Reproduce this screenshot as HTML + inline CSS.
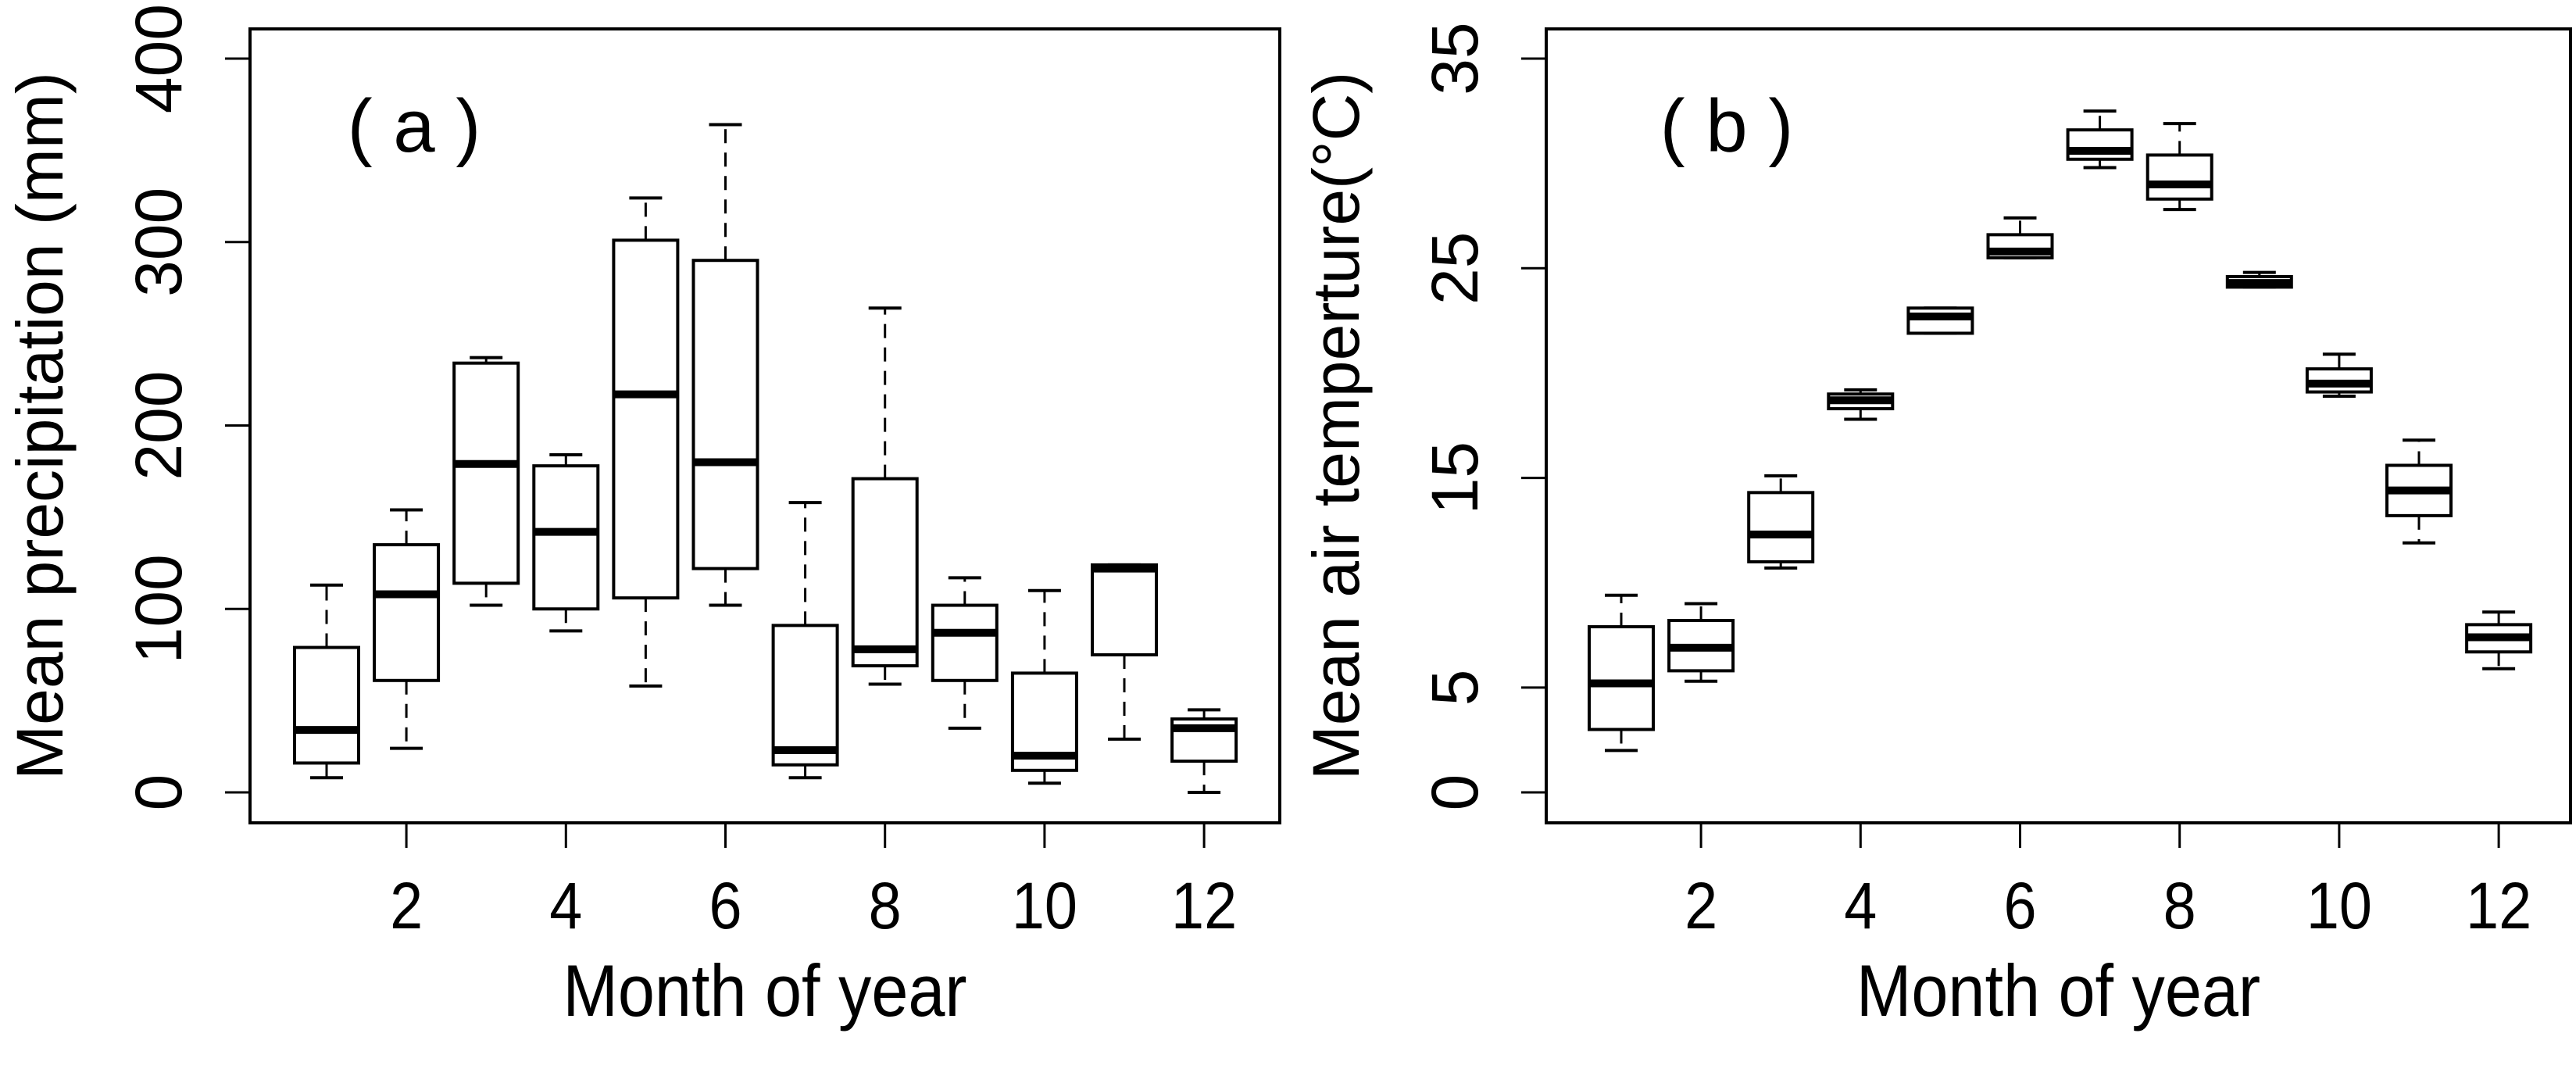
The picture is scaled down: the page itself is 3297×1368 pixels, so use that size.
<!DOCTYPE html>
<html><head><meta charset="utf-8">
<style>
html,body{margin:0;padding:0;background:#fff;}
svg{display:block;}
text{font-family:"Liberation Sans",Arial,sans-serif;fill:#000;}
</style></head>
<body>
<svg id="chart" width="3297" height="1368" viewBox="0 0 3297 1368" xmlns="http://www.w3.org/2000/svg"></svg>
<script>
// ---- data ----
const months = [1,2,3,4,5,6,7,8,9,10,11,12];
const xTickLabels = [2,4,6,8,10,12];
// Panel a: precipitation (mm)
const precipLow  = [8,24,102,88,58,102,8,59,35,5,29,0];
const precipQ1   = [16,61,114,100,106,122,15,69,61,12,75,17];
const precipMed  = [34,108,179,142,217,180,23,78,87,20,122,35];
const precipQ3   = [79,135,234,178,301,290,91,171,102,65,124,40];
const precipHigh = [113,154,237,184,324,364,158,264,117,110,124,45];
const precipTicks = [0,100,200,300,400];
// Panel b: air temperature (°C)
const tempLow  = [2.0,5.3,10.7,17.8,21.9,25.5,29.8,27.8,24.1,18.9,11.9,5.9];
const tempQ1   = [3.0,5.8,11.0,18.3,21.9,25.5,30.2,28.3,24.1,19.1,13.2,6.7];
const tempMed  = [5.2,6.9,12.3,18.7,22.7,25.8,30.6,29.0,24.3,19.5,14.4,7.4];
const tempQ3   = [7.9,8.2,14.3,19.0,23.1,26.6,31.6,30.4,24.6,20.2,15.6,8.0];
const tempHigh = [9.4,9.0,15.1,19.2,23.1,27.4,32.5,31.9,24.8,20.9,16.8,8.6];
const tempTicks = [0,5,15,25,35];

const NS = "http://www.w3.org/2000/svg";
const svg = document.getElementById('chart');
function mk(tag, attrs, parent){
  const e = document.createElementNS(NS, tag);
  for (const k in attrs) e.setAttribute(k, attrs[k]);
  (parent||svg).appendChild(e);
  return e;
}

function panel(cfg){
  const g = mk('g', {});
  
  
  const L=cfg.left, R=cfg.right, T=37, B=1053;
  const xScale = m => cfg.x1 + (m-1)*102.1;
  const yScale = v => 1014 - (v - 0) * (1014-75) / cfg.ymax;
  const fr = mk('rect', {x:L, y:T, width:R-L, height:B-T, fill:'none', stroke:'#000', 'stroke-width':4}, g);
  
  
  cfg.yticks.forEach(v => {
    const y = yScale(v);
    const t = mk('line', {x1:L-32, x2:L, y1:y, y2:y, stroke:'#000','stroke-width':3}, g);
    
    
    const lb = mk('text', {x:0, y:0, transform:`translate(${L-88},${y}) rotate(-90)`, 'text-anchor':'middle', 'font-size':84}, g);
    lb.textContent = v;
    
    
  });
  xTickLabels.forEach(m => {
    const x = xScale(m);
    const t = mk('line', {x1:x, x2:x, y1:B, y2:B+32, stroke:'#000','stroke-width':3}, g);
    
    
    const lb = mk('text', {x:x, y:1188, 'text-anchor':'middle', 'font-size':84, transform:`translate(${x},0) scale(0.9,1) translate(${-x},0)`}, g);
    lb.textContent = m;
    
    
  });
  months.forEach((m,i) => {
    const x = xScale(m);
    const bg = mk('g', {}, g);
    
    
    const lo=yScale(cfg.low[i]), q1=yScale(cfg.q1[i]), md=yScale(cfg.med[i]), q3=yScale(cfg.q3[i]), hi=yScale(cfg.high[i]);
    mk('line', {x1:x,x2:x,y1:q3,y2:hi,stroke:'#000','stroke-width':3,'stroke-dasharray':'18,12'}, bg);
    mk('line', {x1:x,x2:x,y1:q1,y2:lo,stroke:'#000','stroke-width':3,'stroke-dasharray':'18,12'}, bg);
    mk('line', {x1:x-21,x2:x+21,y1:hi,y2:hi,stroke:'#000','stroke-width':4}, bg);
    mk('line', {x1:x-21,x2:x+21,y1:lo,y2:lo,stroke:'#000','stroke-width':4}, bg);
    mk('rect', {x:x-41,y:q3,width:82,height:Math.max(q1-q3,1),fill:'#fff',stroke:'#000','stroke-width':4}, bg);
    mk('line', {x1:x-41,x2:x+41,y1:md,y2:md,stroke:'#000','stroke-width':10}, bg);
  });
  const pl = mk('text', {x:cfg.labelX, y:194, 'text-anchor':'middle', 'font-size':96}, g);
  pl.textContent = cfg.label;
  
  
  const yt = mk('text', {x:0, y:0, transform:`translate(${L-240},545) rotate(-90)`, 'text-anchor':'middle', 'font-size':84}, g);
  yt.textContent = cfg.ytitle;
  
  
  const cx = (L+R)/2;
  const xt = mk('text', {x:cx, y:1300, 'text-anchor':'middle', 'font-size':94, transform:`translate(${cx},0) scale(0.9,1) translate(${-cx},0)`}, g);
  xt.textContent = 'Month of year';
  
  
}

panel({name:'panel-a-precipitation', left:320, right:1638, x1:418, ymax:400, yticks:precipTicks,
  low:precipLow,q1:precipQ1,med:precipMed,q3:precipQ3,high:precipHigh,
  label:'( a )', labelX:530, ytitle:'Mean precipitation (mm)'});
panel({name:'panel-b-temperature', left:1979, right:3290, x1:2075, ymax:35, yticks:tempTicks,
  low:tempLow,q1:tempQ1,med:tempMed,q3:tempQ3,high:tempHigh,
  label:'( b )', labelX:2210, ytitle:'Mean air temperture(°C)'});
</script>
</body></html>
